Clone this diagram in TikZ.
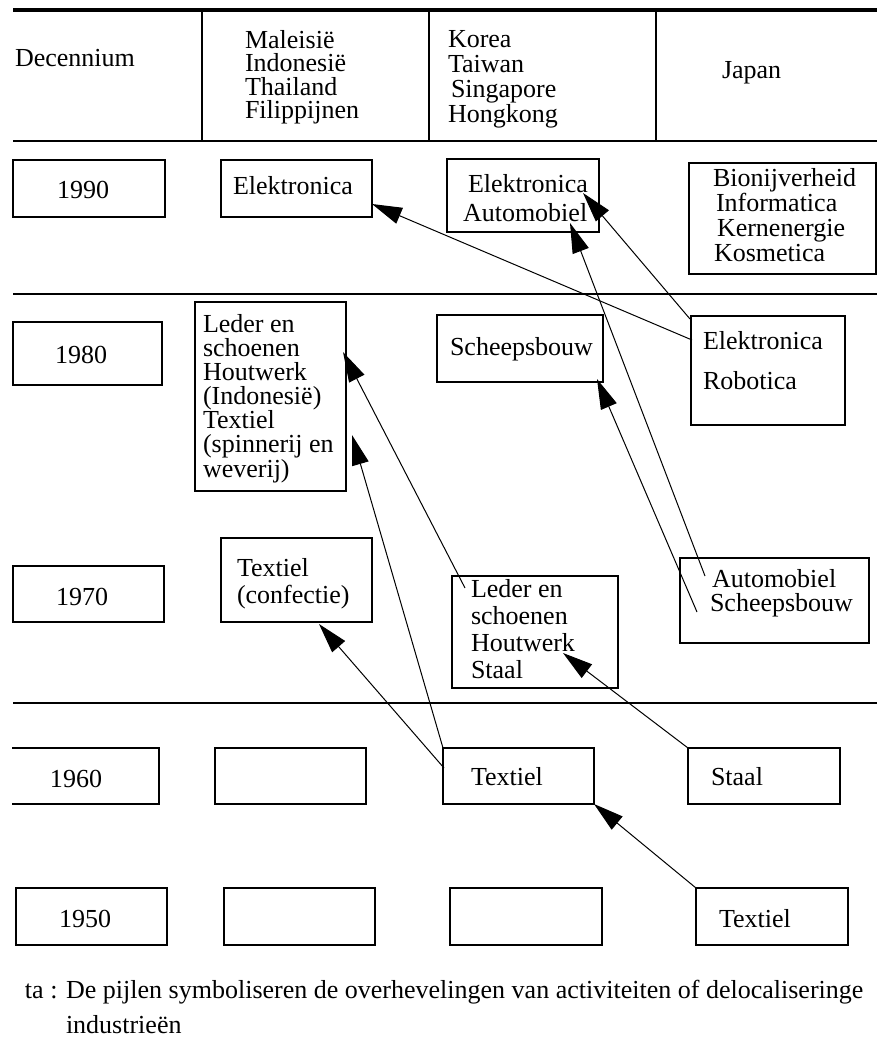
\documentclass[tikz,border=0pt]{standalone}
\usepackage{fontspec}
\setmainfont{Liberation Serif}
\usetikzlibrary{arrows.meta,calc}
\newcommand\ffs[1]{\fontsize{14.8pt}{#1pt}\selectfont\lineskiplimit=-20pt\relax}
\newcommand\bx[5]{\node[box, minimum width={(#4-#2)*0.02cm}, minimum height={(#5-#3)*0.02cm}] (#1) at ({(#2+#4)/2},{(#3+#5)/2}) {};}
\begin{document}
\begin{tikzpicture}[x=0.02cm,y=-0.02cm,
  box/.style={draw, line width=1.13pt, inner sep=0pt, outer sep=0pt},
  txt/.style={inner sep=0pt, outer sep=0pt, align=left, anchor=base west, font=\ffs{13.9}},
  arr/.style={line width=0.57pt, -{Triangle[length=0.6cm,width=0.34cm]}},
  rule/.style={line width=1.13pt},
  thickrule/.style={line width=2.27pt}]
\useasboundingbox (0,0) rectangle (877,1051);
% table rules
\draw[thickrule] (13,10) -- (877,10);
\draw[rule] (13,141) -- (877,141);
\draw[rule] (202,10) -- (202,141);
\draw[rule] (429,10) -- (429,141);
\draw[rule] (656,10) -- (656,141);
\draw[rule] (13,294) -- (877,294);
\draw[rule] (13,703) -- (877,703);
% header (multi-line texts are placed by the baseline of their last line)
\node[txt] (hdec) at (15,67) {Decennium};
\node[txt, font=\ffs{13.3}] (hmi) at (245,118.5) {Maleisië\\Indonesië\\Thailand\\Filippijnen};
\node[txt, font=\ffs{14.2}] (hko) at (448,122) {Korea\\Taiwan\\\hspace{0.06cm}Singapore\\Hongkong};
\node[txt] (hjp) at (722,79) {Japan};
% boxes
\bx{d90}{13}{160}{165}{217}
\bx{mi90}{221}{160}{372}{217}
\bx{ko90}{447}{159}{599}{232}
\bx{jp90}{689}{163}{876}{274}
\bx{d80}{13}{322}{162}{385}
\bx{mi80}{195}{302}{346}{491}
\bx{ko80}{437}{315}{603}{382}
\bx{jp80}{691}{316}{845}{425}
\bx{d70}{13}{566}{164}{622}
\bx{mi70}{221}{538}{372}{622}
\bx{ko70}{452}{576}{618}{688}
\bx{jp70}{680}{558}{869}{643}
\node[inner sep=0pt, outer sep=0pt, minimum width={147*0.02cm}, minimum height={56*0.02cm}] (d60) at (85.5,776) {};
\draw[line width=1.13pt] (d60.north west) -- (d60.north east) -- (d60.south east) -- (d60.south west);
\bx{mi60}{215}{748}{366}{804}
\bx{ko60}{443}{748}{594}{804}
\bx{jp60}{688}{748}{840}{804}
\bx{d50}{16}{888}{167}{945}
\bx{mi50}{224}{888}{375}{945}
\bx{ko50}{450}{888}{602}{945}
\bx{jp50}{696}{888}{848}{945}
% texts
\node[txt] (t-d90) at (57,198) {1990};
\node[txt] (t-mi90) at (233,194) {Elektronica};
\node[txt, font=\ffs{16.4}] (t-ko90) at (463,221) {\hspace{0.1cm}Elektronica\\Automobiel};
\node[txt, font=\ffs{14.1}] (t-jp90) at (713,261) {Bionijverheid\\\hspace{0.06cm}Informatica\\\hspace{0.08cm}Kernenergie\\\hspace{0.02cm}Kosmetica};
\node[txt] (t-d80) at (55,363) {1980};
\node[txt, font=\ffs{13.7}] (t-mi80) at (203,477) {Leder en\\schoenen\\Houtwerk\\(Indonesië)\\Textiel\\(spinnerij en\\weverij)};
\node[txt] (t-ko80) at (450,355) {Scheepsbouw};
\node[txt, font=\ffs{22.7}] (t-jp80) at (703,389) {Elektronica\\Robotica};
\node[txt] (t-d70) at (56,605) {1970};
\node[txt, font=\ffs{15.3}] (t-mi70) at (237,603) {Textiel\\(confectie)};
\node[txt, font=\ffs{15.3}] (t-ko70) at (471,678) {Leder en\\schoenen\\Houtwerk\\Staal};
\node[txt, font=\ffs{13.6}] (t-jp70) at (710,611) {\hspace{0.04cm}Automobiel\\Scheepsbouw};
\node[txt] (t-d60) at (50,787) {1960};
\node[txt] (t-ko60) at (471,785) {Textiel};
\node[txt] (t-jp60) at (711,785) {Staal};
\node[txt] (t-d50) at (59,927) {1950};
\node[txt] (t-jp50) at (719,927) {Textiel};
\node[txt] (note1) at (25,998) {ta : De pijlen symboliseren de overhevelingen van activiteiten of delocaliseringe};
\node[txt] (note2) at (66,1033) {industrieën};
% arrows
\draw[arr] ($(jp80.north west)+(1,24)$) -- ($(mi90.south east)+(0,-13)$);
\draw[arr] ($(jp80.north west)+(-1,3)$) -- ($(ko90.north east)+(-16,34)$);
\draw[arr] ($(jp70.north west)+(25,18)$) -- ($(ko90.south east)+(-29,-9)$);
\draw[arr] ($(jp70.north west)+(17,54)$) -- ($(ko80.south east)+(-6,-3)$);
\draw[arr] ($(ko70.north west)+(13,12)$) -- ($(mi80.north east)+(-3,50)$);
\draw[arr] (ko60.north west) -- ($(mi80.north east)+(6,133)$);
\draw[arr] ($(ko60.north west)+(1,20)$) -- ($(mi70.south east)+(-53,2)$);
\draw[arr] (jp60.north west) -- ($(ko70.north west)+(111,77)$);
\draw[arr] (jp50.north west) -- (ko60.south east);
\end{tikzpicture}
\end{document}
